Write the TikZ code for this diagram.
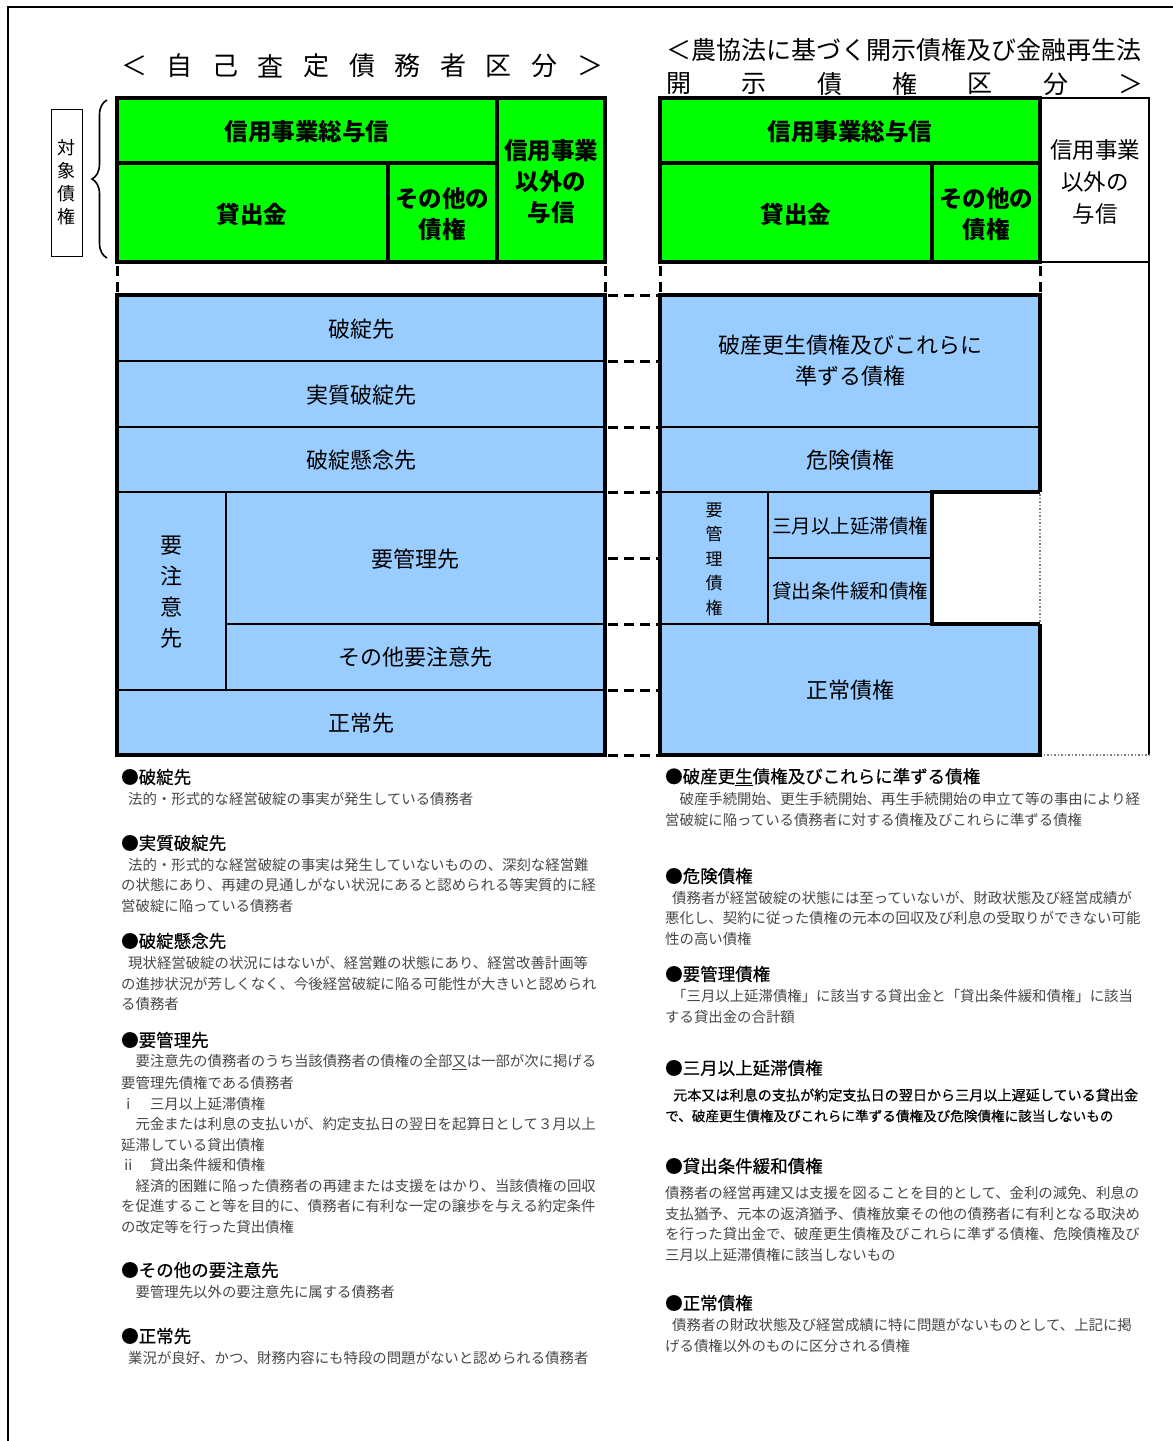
\documentclass[tikz,border=0pt]{standalone}
\usepackage{fontspec}
\setmainfont{Noto Sans CJK JP}
\newfontfamily\semib[FakeBold=0.5]{Noto Sans CJK JP}
\usetikzlibrary{decorations.pathreplacing}
\definecolor{gr}{HTML}{00FF00}
\definecolor{bl}{HTML}{99CCFF}
\newcommand{\fsz}[2]{\fontsize{#1}{#2}\selectfont}
\begin{document}
\begin{tikzpicture}[x=1pt,y=-1pt,
  thk/.style={line width=3.5pt},
  thn/.style={line width=1.4pt},
  dsh/.style={line width=3pt, dash pattern=on 10pt off 6pt},
  gl/.style={font=\bfseries\fsz{23.5}{31}, align=center, inner sep=0pt},
  wl/.style={font=\fsz{22.5}{32}, align=center, inner sep=0pt},
  bll/.style={font=\fsz{22}{31}, align=center, inner sep=0pt},
  sml/.style={font=\fsz{19.5}{24}, inner sep=0pt},
  hd/.style={font=\semib\fsz{17.5}{20}, anchor=west, inner sep=0pt},
  bd/.style={font=\fsz{14.4}{20}, anchor=west, inner sep=0pt, text=black!72},
  ttl/.style={font=\fsz{26}{30}, inner sep=0pt},
]
\useasboundingbox (0,0) rectangle (1173,1441);
\fill[white] (0,0) rectangle (1173,1441);
% frame
\draw[line width=1.5pt] (8,1441) -- (8,7) -- (1173,7);

% titles
\foreach \c [count=\i from 0] in {＜,自,己,査,定,債,務,者,区,分,＞}
  \node[ttl] (lt\i) at (134+45.6*\i, 66) {\c};
\node[font=\fsz{25}{30}, anchor=west, inner sep=0pt] (rt1) at (666,50) {＜農協法に基づく開示債権及び金融再生法};
\foreach \c [count=\i from 0] in {開,示,債,権,区,分,＞}
  \node[ttl, font=\fsz{25}{30}] (rt\i) at (679+75.3*\i, 84) {\c};

% target box and brace
\node[draw, line width=0.9pt, minimum width=31pt, minimum height=147pt, inner sep=0pt,
      font=\fsz{18}{23}, align=center] (taisho) at (66.5,182.5) {対\\象\\債\\権};
\draw[line width=1.6pt, decorate, decoration={brace, amplitude=15pt}] (107,258) -- (107,100);

% left green
\fill[gr] (117,98) rectangle (605,262);
\draw[thk] (117,163) -- (497,163) (497,98) -- (497,262) (388,163) -- (388,262);
\draw[thk] (117,98) rectangle (605,262);
\node[gl] (lsogo) at (307,132) {信用事業総与信};
\node[gl] (lkashi) at (252,214) {貸出金};
\node[gl] (lsonota) at (442,214) {その他の\\債権};
\node[gl] (ligai) at (551,182) {信用事業\\以外の\\与信};

% right green
\fill[gr] (660,98) rectangle (1040,262);
\draw[thk] (660,163) -- (1040,163) (932,163) -- (932,262);
\draw[thk] (660,98) rectangle (1040,262);
\draw[line width=1.2pt] (1040,98) rectangle (1149,262);
\draw[line width=1.2pt] (1040,262) -- (1149,262) -- (1149,755);
\draw[gray, line width=1.5pt, dotted] (1040,755) -- (1149,755);
\node[gl] (rsogo) at (850,132) {信用事業総与信};
\node[gl] (rkashi) at (796,214) {貸出金};
\node[gl] (rsonota) at (986,214) {その他の\\債権};
\node[wl] (rigai) at (1095,182) {信用事業\\以外の\\与信};

% vertical dashed links
\foreach \x in {117,605,660,1040}
  \draw[dsh] (\x,266) -- (\x,295);

% left blue
\fill[bl] (117,295) rectangle (605,755);
\draw[thn] (117,361) -- (605,361) (117,427) -- (605,427) (117,492) -- (605,492)
           (226,624) -- (605,624) (117,690) -- (605,690) (226,492) -- (226,690);
\draw[thk] (117,295) rectangle (605,755);
\node[bll] (hatan) at (361,329) {破綻先};
\node[bll] (jisshitsu) at (361,395) {実質破綻先};
\node[bll] (kenen) at (361,460) {破綻懸念先};
\node[bll] (yochui) at (171,592) {要\\注\\意\\先};
\node[bll] (yokanri) at (415,559) {要管理先};
\node[bll] (sonota) at (415,657) {その他要注意先};
\node[bll] (seijo) at (361,723) {正常先};

% horizontal dashed links
\foreach \y in {295,361,427,492,558,624,690,755}
  \draw[dsh] (608,\y) -- (658,\y);

% right blue
\fill[bl] (660,295) rectangle (1040,755);
\fill[white] (932,492) rectangle (1040,624);
\draw[thn] (660,427) -- (1040,427) (660,492) -- (932,492) (768,492) -- (768,624)
           (768,558) -- (932,558) (660,624) -- (932,624);
\draw[thk] (1040,492) -- (932,492) -- (932,624) -- (1040,624);
\draw[thk] (1040,492) -- (1040,295) -- (660,295) -- (660,755) -- (1040,755) -- (1040,624);
\draw[gray, dotted, line width=1.5pt] (1040,494) -- (1040,622);
\node[bll] (hasan) at (850,361) {破産更生債権及びこれらに\\準ずる債権};
\node[bll] (kiken) at (850,460) {危険債権};
\node[font=\fsz{17}{24.5}, align=center, inner sep=0pt] (ykc) at (714,559) {要\\管\\理\\債\\権};
\node[sml] (sangatsu) at (850,526) {三月以上延滞債権};
\node[sml] (kanwa) at (850,591) {貸出条件緩和債権};
\node[bll] (seijosaiken) at (850,690) {正常債権};

% left descriptions
\node[hd] (h1) at (121,777) {●破綻先};
\node[bd] (b1a) at (128,799) {法的・形式的な経営破綻の事実が発生している債務者};
\node[hd] (h2) at (121,843) {●実質破綻先};
\node[bd] (b2a) at (128,865) {法的・形式的な経営破綻の事実は発生していないものの、深刻な経営難};
\node[bd] (b2b) at (121,885) {の状態にあり、再建の見通しがない状況にあると認められる等実質的に経};
\node[bd] (b2c) at (121,906) {営破綻に陥っている債務者};
\node[hd] (h3) at (121,941) {●破綻懸念先};
\node[bd] (b3a) at (128,963) {現状経営破綻の状況にはないが、経営難の状態にあり、経営改善計画等};
\node[bd] (b3b) at (121,984) {の進捗状況が芳しくなく、今後経営破綻に陥る可能性が大きいと認められ};
\node[bd] (b3c) at (121,1004) {る債務者};
\node[hd] (h4) at (121,1040) {●要管理先};
\node[bd] (b4a) at (135.4,1062) {要注意先の債務者のうち当該債務者の債権の全部\underline{又}は一部が次に掲げる};
\node[bd] (b4b) at (121,1083) {要管理先債権である債務者};
\node[bd] (b4c) at (121,1104) {ⅰ　三月以上延滞債権};
\node[bd] (b4d) at (135.4,1124) {元金または利息の支払いが、約定支払日の翌日を起算日として３月以上};
\node[bd] (b4e) at (121,1145) {延滞している貸出債権};
\node[bd] (b4f) at (121,1165) {ⅱ　貸出条件緩和債権};
\node[bd] (b4g) at (135.4,1186) {経済的困難に陥った債務者の再建または支援をはかり、当該債権の回収};
\node[bd] (b4h) at (121,1206) {を促進すること等を目的に、債務者に有利な一定の譲歩を与える約定条件};
\node[bd] (b4i) at (121,1227) {の改定等を行った貸出債権};
\node[hd] (h5) at (121,1270) {●その他の要注意先};
\node[bd] (b5a) at (135.4,1292) {要管理先以外の要注意先に属する債務者};
\node[hd] (h6) at (121,1336) {●正常先};
\node[bd] (b6a) at (128,1358) {業況が良好、かつ、財務内容にも特段の問題がないと認められる債務者};

% right descriptions
\node[hd] (k1) at (665,777) {●破産更\underline{生}債権及びこれらに準ずる債権};
\node[bd] (c1a) at (679.4,799) {破産手続開始、更生手続開始、再生手続開始の申立て等の事由により経};
\node[bd] (c1b) at (665,820) {営破綻に陥っている債務者に対する債権及びこれらに準ずる債権};
\node[hd] (k2) at (665,876) {●危険債権};
\node[bd] (c2a) at (672,898) {債務者が経営破綻の状態には至っていないが、財政状態及び経営成績が};
\node[bd] (c2b) at (665,918) {悪化し、契約に従った債権の元本の回収及び利息の受取りができない可能};
\node[bd] (c2c) at (665,939) {性の高い債権};
\node[hd] (k3) at (665,974) {●要管理債権};
\node[bd] (c3a) at (672,996) {「三月以上延滞債権」に該当する貸出金と「貸出条件緩和債権」に該当};
\node[bd] (c3b) at (665,1017) {する貸出金の合計額};
\node[hd] (k4) at (665,1068) {●三月以上延滞債権};
\node[bd, text=black, font=\semib\fsz{14.1}{20}] (c4a) at (673,1095) {元本又は利息の支払が約定支払日の翌日から三月以上遅延している貸出金};
\node[bd, text=black, font=\semib\fsz{13.6}{20}] (c4b) at (665,1116) {で、破産更生債権及びこれらに準ずる債権及び危険債権に該当しないもの};
\node[hd] (k5) at (665,1166) {●貸出条件緩和債権};
\node[bd] (c5a) at (665,1193) {債務者の経営再建又は支援を図ることを目的として、金利の減免、利息の};
\node[bd] (c5b) at (665,1214) {支払猶予、元本の返済猶予、債権放棄その他の債務者に有利となる取決め};
\node[bd] (c5c) at (665,1234) {を行った貸出金で、破産更生債権及びこれらに準ずる債権、危険債権及び};
\node[bd] (c5d) at (665,1255) {三月以上延滞債権に該当しないもの};
\node[hd] (k6) at (665,1303) {●正常債権};
\node[bd] (c6a) at (672,1325) {債務者の財政状態及び経営成績に特に問題がないものとして、上記に掲};
\node[bd] (c6b) at (665,1346) {げる債権以外のものに区分される債権};
\end{tikzpicture}
\end{document}
